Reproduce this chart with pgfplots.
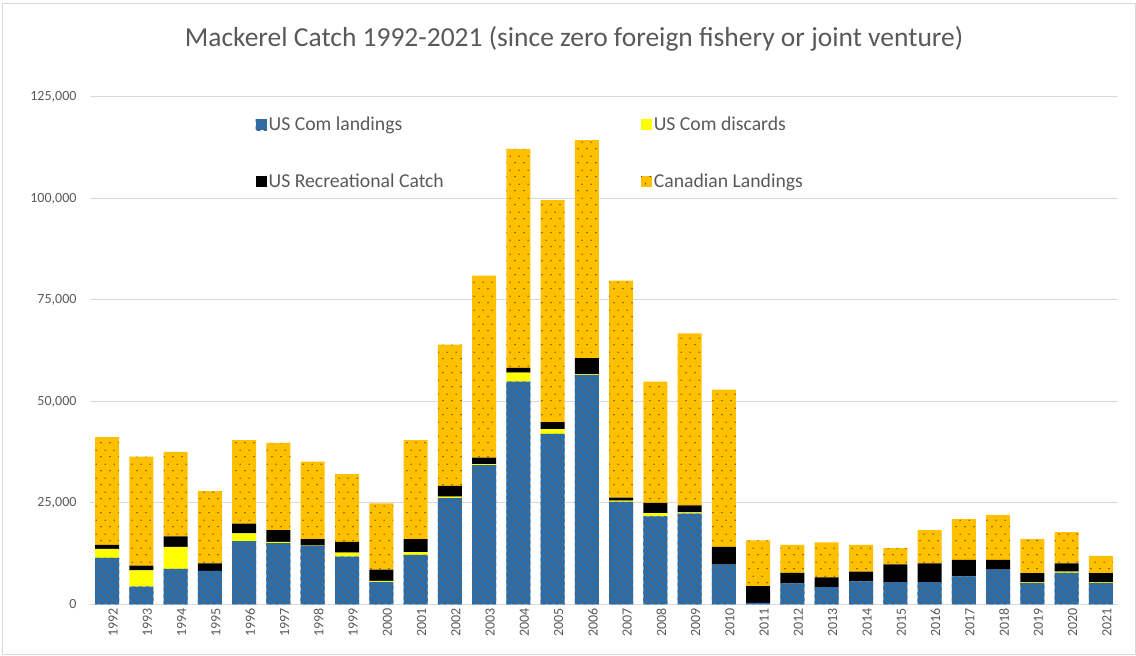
\documentclass[border=0pt]{standalone}
\usepackage{pgfplots}
\pgfplotsset{compat=1.18}
\usepackage{pgfplotstable}
\usepackage{fontspec}
\setmainfont{Carlito}
\usetikzlibrary{patterns}
\definecolor{comblue}{HTML}{1B72BE}
\definecolor{stripegray}{HTML}{4A6580}
\definecolor{canyel}{HTML}{FFC000}
\definecolor{disyel}{HTML}{FFFF00}
\definecolor{labelgray}{HTML}{595959}
\definecolor{gridgray}{HTML}{D9D9D9}

\pgfdeclarepatternformonly{diagstripes}{\pgfqpoint{-1pt}{-1pt}}{\pgfqpoint{8pt}{8pt}}{\pgfqpoint{7pt}{7pt}}{%
  \pgfsetlinewidth{2.2pt}%
  \pgfpathmoveto{\pgfqpoint{-1pt}{8pt}}\pgfpathlineto{\pgfqpoint{8pt}{-1pt}}%
  \pgfusepath{stroke}%
}
\pgfdeclarepatternformonly{sparsedots}{\pgfpointorigin}{\pgfqpoint{9pt}{14pt}}{\pgfqpoint{9pt}{14pt}}{%
  \pgfpathcircle{\pgfqpoint{2.25pt}{3.5pt}}{0.65pt}%
  \pgfpathcircle{\pgfqpoint{6.75pt}{10.5pt}}{0.65pt}%
  \pgfusepath{fill}%
}

\pgfplotstableread{
x year blue yel rec can
0 1992 11500 2200 1000 26500
1 1993 4400 4000 1200 26800
2 1994 8800 5400 2600 20800
3 1995 8300 0 1800 17800
4 1996 15600 1900 2400 20600
5 1997 15100 300 2900 21500
6 1998 14400 100 1600 19100
7 1999 11800 1000 2600 16700
8 2000 5500 300 2800 16300
9 2001 12200 700 3200 24400
10 2002 26200 400 2600 34800
11 2003 34300 300 1600 44800
12 2004 54900 2200 1200 53900
13 2005 42000 1200 1700 54700
14 2006 56500 200 4000 53700
15 2007 25300 300 700 53500
16 2008 21700 800 2500 29900
17 2009 22400 300 1700 42400
18 2010 9800 0 4400 38700
19 2011 400 0 4100 11300
20 2012 5200 0 2600 6900
21 2013 4300 0 2400 8600
22 2014 5700 0 2400 6600
23 2015 5500 0 4400 4000
24 2016 5500 0 4600 8200
25 2017 6900 0 4100 10000
26 2018 8600 0 2400 11100
27 2019 5300 200 2200 8400
28 2020 7800 300 2000 7700
29 2021 5300 200 2200 4300
}\data

\begin{document}
\begin{tikzpicture}
\useasboundingbox (0pt,0pt) rectangle (1136pt,656pt);
\draw[gridgray, line width=1pt] (2pt,1pt) rectangle (1135pt,652pt);
\node[text=labelgray, font=\fontsize{27.5}{32}\selectfont] at (574pt,617pt) {Mackerel Catch 1992-2021 (since zero foreign fishery or joint venture)};
\begin{axis}[
  at={(90pt,51.5pt)}, anchor=south west,
  scale only axis, width=1028pt, height=507.5pt,
  ybar stacked, bar width=24pt,
  xmin=-0.5, xmax=29.5, ymin=0, ymax=125000,
  xtick={0,...,29},
  xticklabels={1992,1993,1994,1995,1996,1997,1998,1999,2000,2001,2002,2003,2004,2005,2006,2007,2008,2009,2010,2011,2012,2013,2014,2015,2016,2017,2018,2019,2020,2021},
  ytick={0,25000,50000,75000,100000,125000},
  scaled y ticks=false,
  yticklabel={\pgfmathprintnumber[fixed,precision=0,1000 sep={,},assume math mode=true]{\tick}},
  ymajorgrids, grid style={draw=gridgray, line width=1pt},
  axis x line*=bottom, axis y line*=left,
  x axis line style={draw=gridgray, line width=1pt, -},
  y axis line style={draw=none},
  major tick length=0pt,
  tick style={draw=none},
  yticklabel style={font=\fontsize{14}{16}\selectfont, text=labelgray, xshift=-10pt},
  xticklabel style={font=\fontsize{14}{16}\selectfont, text=labelgray, rotate=90, anchor=east, yshift=-6pt},
  legend columns=2,
  legend cell align=left,
  legend style={draw=none, fill=none, at={(0.158,0.969)}, anchor=north west,
    font=\fontsize{19.7}{23}\selectfont, text=labelgray,
    /tikz/column 2/.style={column sep=195pt},
    row sep=38pt},
  legend image code/.code={\fill[#1] (0pt,-5.5pt) rectangle (11pt,5.5pt);},
]
\addplot[draw=none, fill=comblue, postaction={pattern=diagstripes, pattern color=stripegray}] table[x=x,y=blue]{\data};
\addlegendentry{US Com landings}
\addplot[draw=none, fill=disyel] table[x=x,y=yel]{\data};
\addlegendentry{US Com discards}
\addplot[draw=none, fill=black] table[x=x,y=rec]{\data};
\addlegendentry{US Recreational Catch}
\addplot[draw=none, fill=canyel, postaction={pattern=sparsedots, pattern color=black}] table[x=x,y=can]{\data};
\addlegendentry{Canadian Landings}
\end{axis}
\end{tikzpicture}
\end{document}
